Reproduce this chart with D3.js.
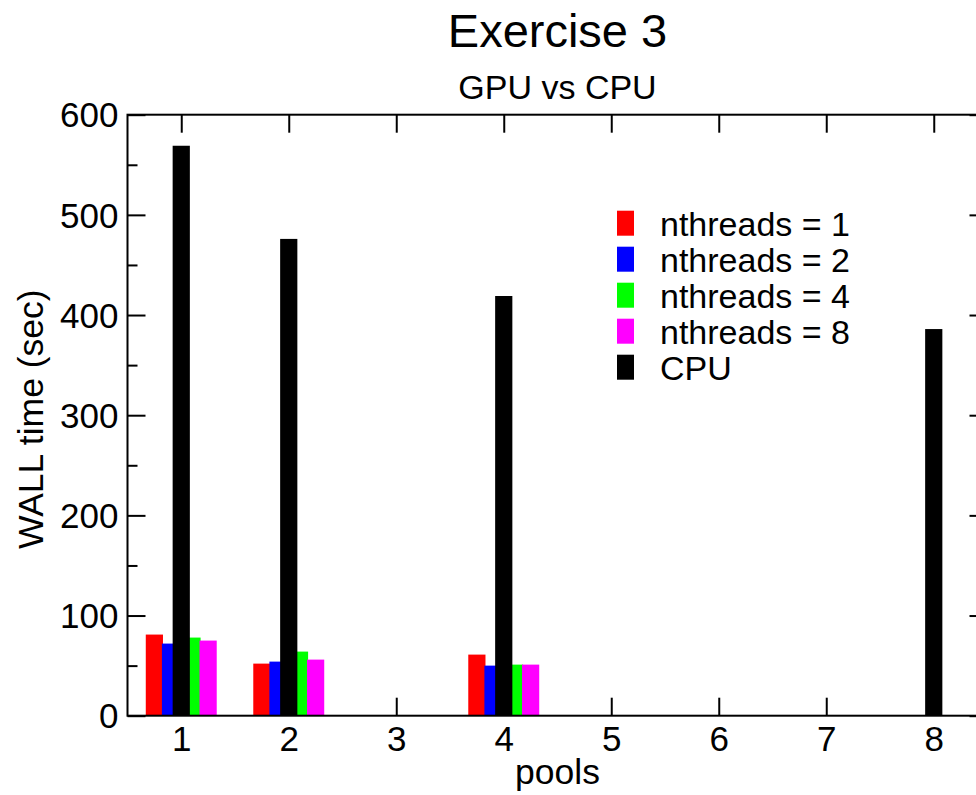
<!DOCTYPE html>
<html>
<head>
<meta charset="utf-8">
<script src="https://cdn.jsdelivr.net/npm/d3@7"></script>
<style>
  html, body { margin: 0; padding: 0; background: #fff; }
  svg { display: block; }
  text { font-family: "Liberation Sans", Arial, Helvetica, sans-serif; fill: #000; }
</style>
</head>
<body>
<svg id="chart" width="976" height="795"></svg>
<script>
// Wall-clock times (seconds) per number of pools
const pools = [1, 2, 4, 8];
const gpuPools = [1, 2, 4];
const cpuTimes = [569, 476, 419, 386];
const nthreads1 = [81, 52, 61];
const nthreads2 = [72, 54, 50];
const nthreads4 = [78, 64, 51];
const nthreads8 = [75, 56, 51];

const xTicks = [1, 2, 3, 4, 5, 6, 7, 8];
const yTicks = [0, 100, 200, 300, 400, 500, 600];
const yMinor = [50, 150, 250, 350, 450, 550];

const seriesNames = ["nthreads = 1", "nthreads = 2", "nthreads = 4", "nthreads = 8", "CPU"];
const seriesColors = ["#ff0000", "#0000ff", "#00ff00", "#ff00ff", "#000000"];

// Bar sets: each is offset from its pool position so the groups sit side by side
const sets = [
  { x: gpuPools, y: nthreads1, offset: -0.25, color: seriesColors[0] },
  { x: gpuPools, y: nthreads2, offset: -0.10, color: seriesColors[1] },
  { x: gpuPools, y: nthreads4, offset: 0.10, color: seriesColors[2] },
  { x: gpuPools, y: nthreads8, offset: 0.25, color: seriesColors[3] },
  { x: pools, y: cpuTimes, offset: 0, color: seriesColors[4] }
];
const barWidth = 0.16;

const svg = d3.select("#chart");

const plotLeft = 127.5, plotRight = 987.5, plotTop = 114.7, plotBottom = 715.7;
const x = d3.scaleLinear().domain([0.5, 8.5]).range([plotLeft, plotRight]);
const y = d3.scaleLinear().domain([0, 600]).range([plotBottom, plotTop]);

// Bars
sets.forEach(s => {
  svg.append("g").selectAll("rect")
    .data(s.x.map((p, i) => ({ p, v: s.y[i] })))
    .join("rect")
    .attr("x", d => x(d.p + s.offset - barWidth / 2))
    .attr("width", d => x(d.p + s.offset + barWidth / 2) - x(d.p + s.offset - barWidth / 2))
    .attr("y", d => y(d.v))
    .attr("height", d => y(0) - y(d.v))
    .attr("fill", s.color);
});

// Axes: ticks point inward on all four sides
const major = 18, minor = 10;
const tickStyle = g => {
  g.select(".domain").remove();
  g.selectAll(".tick line").attr("stroke", "#000").attr("stroke-width", 2);
};

// bottom
svg.append("g")
  .attr("transform", `translate(0,${plotBottom})`)
  .call(d3.axisBottom(x).tickValues(xTicks).tickSize(-major).tickFormat(d3.format("d")))
  .call(tickStyle)
  .call(g => g.selectAll(".tick text").attr("font-size", 35).attr("dy", 0).attr("y", 35));

// top
svg.append("g")
  .attr("transform", `translate(0,${plotTop})`)
  .call(d3.axisTop(x).tickValues(xTicks).tickSize(-major).tickFormat(""))
  .call(tickStyle);

// left major + labels
svg.append("g")
  .attr("transform", `translate(${plotLeft},0)`)
  .call(d3.axisLeft(y).tickValues(yTicks).tickSize(-major).tickFormat(d3.format("d")))
  .call(tickStyle)
  .call(g => g.selectAll(".tick text").attr("font-size", 35).attr("x", -9).attr("dy", "0.35em"));

// left minor
svg.append("g")
  .attr("transform", `translate(${plotLeft},0)`)
  .call(d3.axisLeft(y).tickValues(yMinor).tickSize(-minor).tickFormat(""))
  .call(tickStyle);

// right major + minor
svg.append("g")
  .attr("transform", `translate(${plotRight},0)`)
  .call(d3.axisRight(y).tickValues(yTicks).tickSize(-major).tickFormat(""))
  .call(tickStyle);
svg.append("g")
  .attr("transform", `translate(${plotRight},0)`)
  .call(d3.axisRight(y).tickValues(yMinor).tickSize(-minor).tickFormat(""))
  .call(tickStyle);

// Frame
svg.append("rect")
  .attr("x", plotLeft).attr("y", plotTop)
  .attr("width", plotRight - plotLeft).attr("height", plotBottom - plotTop)
  .attr("fill", "none").attr("stroke", "#000").attr("stroke-width", 2);

// Titles
const cx = (plotLeft + plotRight) / 2;
svg.append("text").attr("x", cx).attr("y", 46.5).attr("text-anchor", "middle")
  .attr("font-size", 47).text("Exercise 3");
svg.append("text").attr("x", cx).attr("y", 99).attr("text-anchor", "middle")
  .attr("font-size", 34).text("GPU vs CPU");

// Axis labels
svg.append("text").attr("x", cx).attr("y", 784).attr("text-anchor", "middle")
  .attr("font-size", 35.5).text("pools");
svg.append("text")
  .attr("transform", `translate(43,${(plotTop + plotBottom) / 2 + 4}) rotate(-90)`)
  .attr("text-anchor", "middle").attr("font-size", 35.5).text("WALL time (sec)");

// Legend
const legend = svg.append("g").attr("transform", "translate(617,235.7)");
const rowH = 36;
seriesNames.forEach((name, i) => {
  legend.append("rect")
    .attr("x", 0).attr("y", i * rowH - 25)
    .attr("width", 17).attr("height", 25)
    .attr("fill", seriesColors[i]);
  legend.append("text")
    .attr("x", 43).attr("y", i * rowH)
    .attr("font-size", 34).text(name);
});
</script>
</body>
</html>
